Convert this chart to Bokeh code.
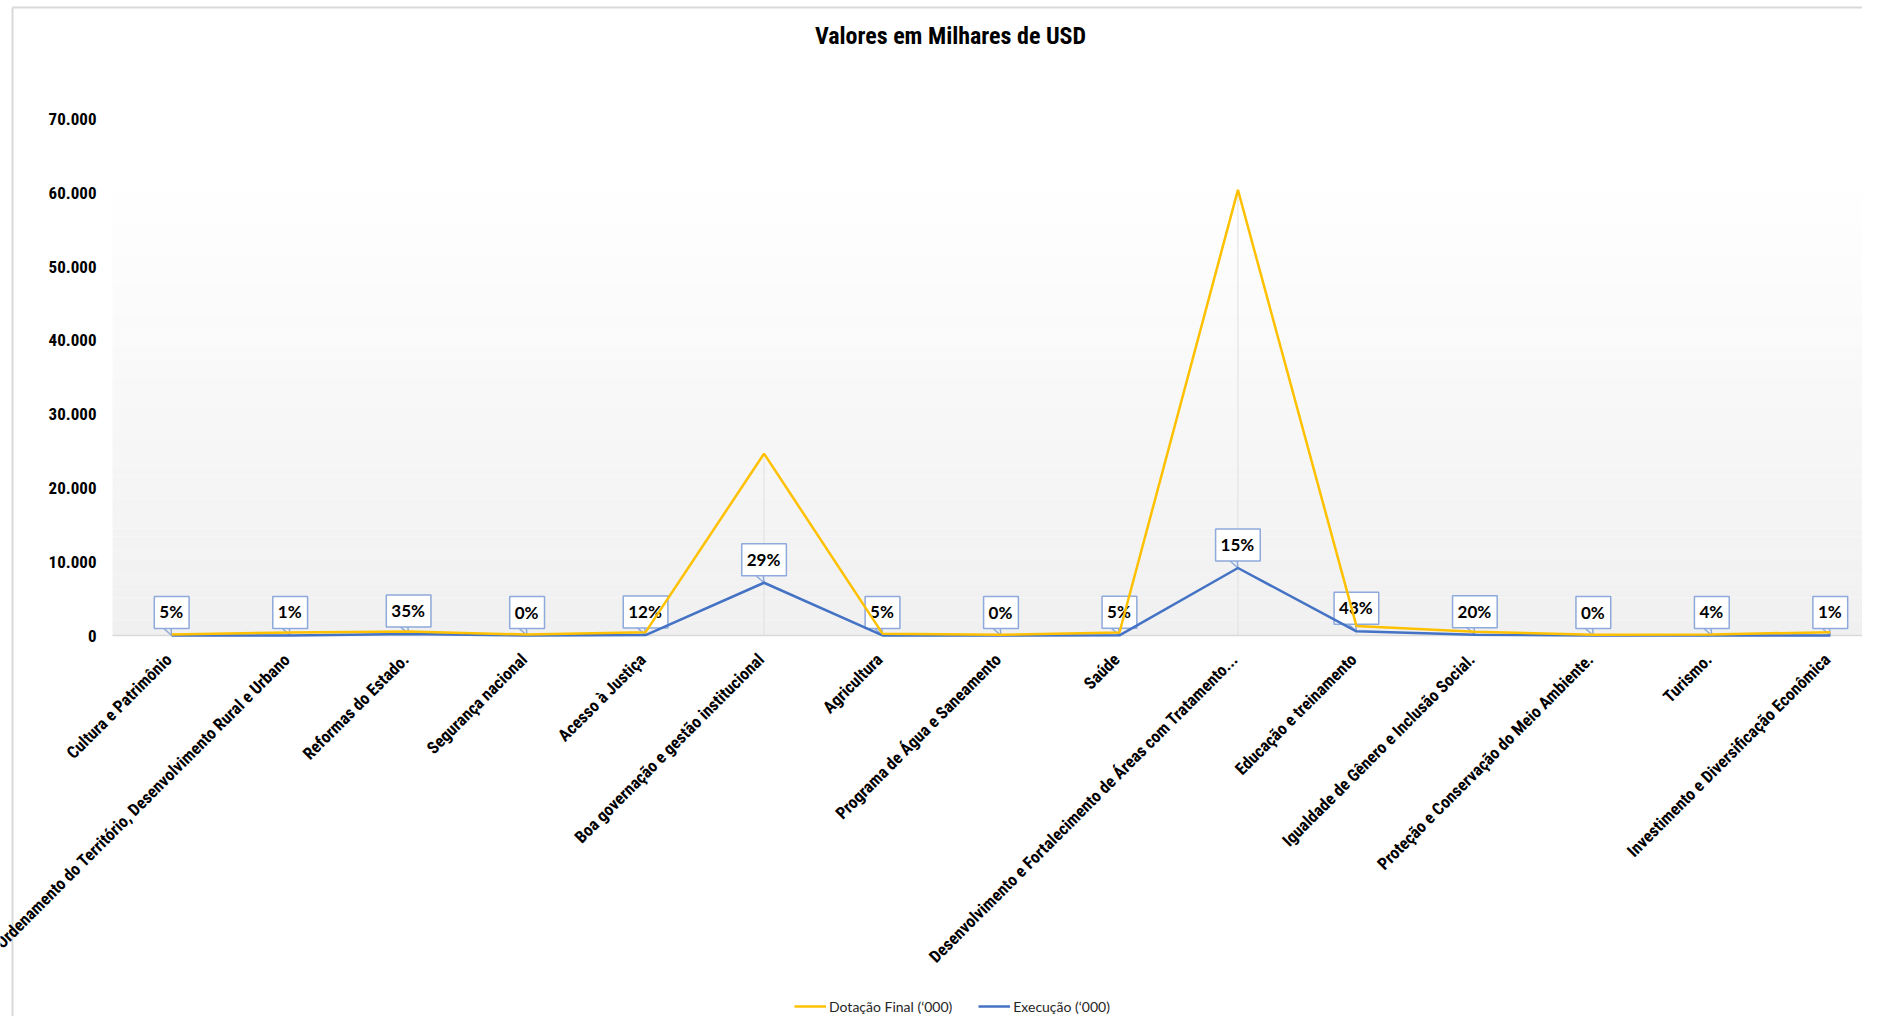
import math
from bokeh.plotting import figure
from bokeh.models import (Range1d, Legend, LegendItem, ColumnDataSource)
from bokeh.core.properties import value
from bokeh.embed import file_html
from bokeh.resources import INLINE

# ---------------- data ----------------
categories = [
    "Cultura e Patrimônio",
    "Ordenamento do Território, Desenvolvimento Rural e Urbano",
    "Reformas do Estado.",
    "Segurança nacional",
    "Acesso à Justiça",
    "Boa governação e gestão institucional",
    "Agricultura",
    "Programa de Água e Saneamento",
    "Saúde",
    "Desenvolvimento e Fortalecimento de Áreas com Tratamento...",
    "Educação e treinamento",
    "Igualdade de Gênero e Inclusão Social.",
    "Proteção e Conservação do Meio Ambiente.",
    "Turismo.",
    "Investimento e Diversificação Econômica",
]
dotacao = [150, 400, 550, 120, 450, 24650, 250, 100, 400, 60400, 1300, 500, 100, 150, 450]
execucao = [8, 4, 190, 0, 55, 7150, 12, 0, 20, 9150, 560, 100, 0, 6, 5]
pct_labels = ["5%", "1%", "35%", "0%", "12%", "29%", "5%", "0%", "5%", "15%",
              "43%", "20%", "0%", "4%", "1%"]
y_ticks = [0, 10000, 20000, 30000, 40000, 50000, 60000, 70000]
y_tick_labels = ["0", "10.000", "20.000", "30.000", "40.000", "50.000", "60.000", "70.000"]
series_names = ["Dotação Final (‘000)", "Execução (‘000)"]
title_text = "Valores em Milhares de USD"

# ---------------- layout constants (pixels) ----------------
W, H = 1862, 1016
X0_PX = 171.2          # screen x of first category
PX_PER_CAT = 118.47    # screen px between categories
Y0_PX = 635.0          # screen y of value 0
PX_PER_UNIT = 73.77 / 10000.0
PLOT_LEFT_PX = 112     # left edge of plot area
TITLE_X_PX, TITLE_Y_PX = 950, 35
BORDER_X_PX, BORDER_Y_PX = 12, 7
GRAD_TOP = 62000

X_START = -X0_PX / PX_PER_CAT
X_END = (W - X0_PX) / PX_PER_CAT
Y_END = Y0_PX / PX_PER_UNIT
Y_START = -(H - Y0_PX) / PX_PER_UNIT
UPP = 1.0 / PX_PER_UNIT
XPP = 1.0 / PX_PER_CAT
X_PLOT_LEFT = (PLOT_LEFT_PX - X0_PX) * XPP

YELLOW = "#FFC000"
BLUE = "#4472C4"
CALLOUT = "#8EA9DB"
NARROW = "'Liberation Sans Narrow', 'Arial Narrow', 'Roboto Condensed', 'Liberation Sans', sans-serif"

xs = list(range(len(categories)))

p = figure(width=W, height=H, output_backend="svg", toolbar_location=None,
           title=None, x_axis_location=None, y_axis_location=None,
           x_range=Range1d(X_START, X_END), y_range=Range1d(Y_START, Y_END),
           min_border=0, min_border_left=0, min_border_right=0, min_border_top=0,
           min_border_bottom=0, background_fill_color="white",
           border_fill_color="white")
p.outline_line_color = None
p.xgrid.visible = False
p.ygrid.visible = False

# chart border (light gray, top and left)
xb = (BORDER_X_PX - X0_PX) * XPP
yb = (Y0_PX - BORDER_Y_PX) * UPP
p.segment(x0=[xb, xb], y0=[Y_START, yb], x1=[xb, X_END + 1], y1=[yb, yb],
          line_color="#d9d9d9", line_width=2)

# gradient plot-area background
nb = 60
bands_b = [GRAD_TOP * i / nb for i in range(nb)]
bands_t = [GRAD_TOP * (i + 1) / nb for i in range(nb)]
cols = []
for i in range(nb):
    f = (i + 0.5) / nb
    c = int(round(240 + (255 - 240) * f))
    cols.append("#%02x%02x%02x" % (c, c, c))
p.quad(left=X_PLOT_LEFT, right=X_END + 1, bottom=bands_b, top=bands_t, fill_color=cols,
       line_color=None)

# drop lines
p.segment(x0=xs, y0=[0] * len(xs), x1=xs, y1=dotacao, line_color="#e0e0e0", line_width=1)

# x axis line
p.segment(x0=[X_PLOT_LEFT], y0=[0], x1=[X_END + 1], y1=[0], line_color="#d9d9d9",
          line_width=1.5)

# category labels (rotated 45 degrees)
p.text(x=xs, y=[0] * len(xs), text=categories, angle=math.pi / 4,
       text_align="right", text_baseline="middle", x_offset=-3, y_offset=21,
       text_font=value(NARROW), text_font_style="bold", text_font_size="17px",
       text_color="#000000")

# y tick labels
p.text(x=[X_PLOT_LEFT] * len(y_ticks), y=y_ticks, text=y_tick_labels,
       text_align="right", text_baseline="middle", x_offset=-16,
       text_font=value(NARROW), text_font_style="bold", text_font_size="17px",
       text_color="#000000")

# title
p.text(x=[(TITLE_X_PX - X0_PX) * XPP], y=[(Y0_PX - TITLE_Y_PX) * UPP], text=[title_text],
       text_align="center", text_baseline="middle", text_font=value(NARROW),
       text_font_style="bold", text_font_size="24px", text_color="#000000")

# data label callouts
src = ColumnDataSource(dict(x=xs, y=execucao, lab=pct_labels))
off = 8 * UPP
dx = 9 * XPP
p.segment(x0=[x - dx for x in xs], y0=[v + off for v in execucao], x1=xs, y1=execucao,
          line_color=CALLOUT, line_width=1.5)
p.segment(x0=[x - dx * 0.1 for x in xs], y0=[v + off for v in execucao], x1=xs, y1=execucao,
          line_color=CALLOUT, line_width=1.5)
p.text(x="x", y="y", text="lab", source=src, y_offset=-23, text_align="center",
       text_baseline="middle", text_font=value("Lato"), text_font_style="bold",
       text_font_size="17px", text_color="#000000",
       background_fill_color="white", border_line_color=CALLOUT,
       border_line_width=1.5, padding=(5, 6, 5, 6))

# lines
r_exec = p.line(xs, execucao, line_color=BLUE, line_width=2.5)
r_dot = p.line(xs, dotacao, line_color=YELLOW, line_width=2.5)

legend = Legend(items=[LegendItem(label=series_names[0], renderers=[r_dot]),
                       LegendItem(label=series_names[1], renderers=[r_exec])],
                orientation="horizontal", location=(794, 0),
                label_text_font="Lato", label_text_font_size="14px",
                label_text_color="#262626", glyph_width=32, label_standoff=3,
                spacing=26, padding=0, margin=0, border_line_color=None,
                background_fill_alpha=0)
p.add_layout(legend, "center")

open("out.html", "w").write(file_html(p, INLINE))
